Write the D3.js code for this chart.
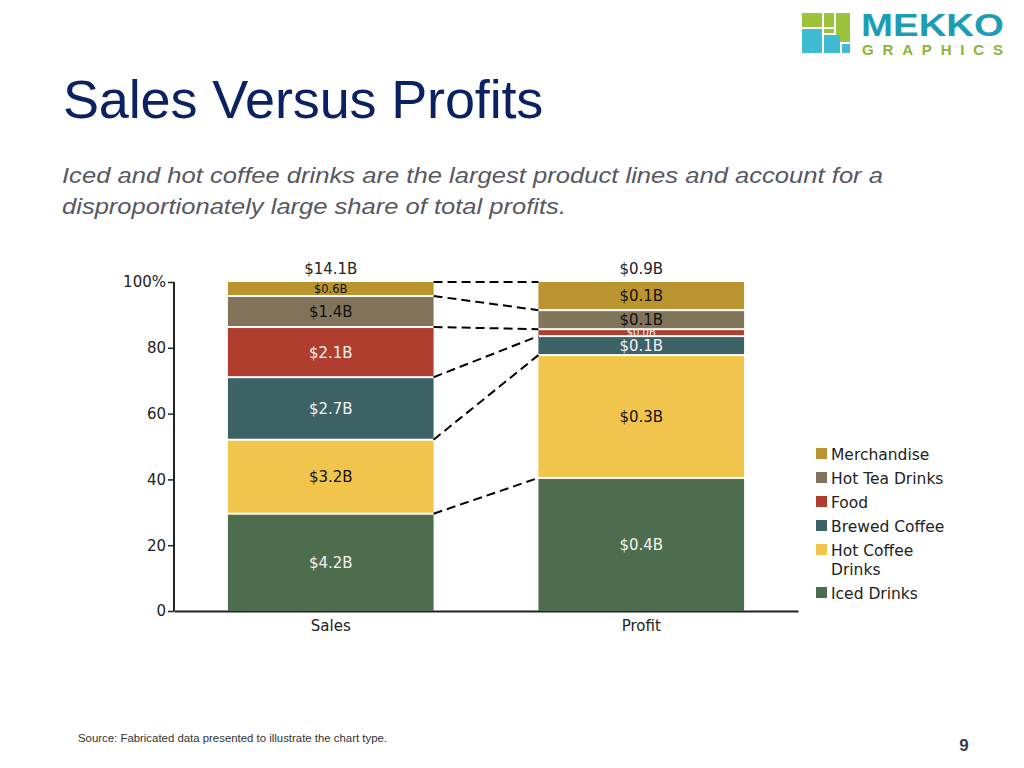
<!DOCTYPE html>
<html><head><meta charset="utf-8">
<script src="https://cdn.jsdelivr.net/npm/d3@7"></script>
<style>body{margin:0;background:#fff;}svg{display:block;}</style>
</head><body>
<svg id="chart" width="1024" height="768"></svg>
<script>
const columns = ["Sales", "Profit"];
const columnTotals = ["$14.1B", "$0.9B"];
const segments = ["Iced Drinks", "Hot Coffee Drinks", "Brewed Coffee", "Food", "Hot Tea Drinks", "Merchandise"];
const salesValues = [4.17, 3.17, 2.68, 2.15, 1.33, 0.60];
const profitValues = [0.364, 0.336, 0.052, 0.019, 0.052, 0.077];
const salesLabels = ["$4.2B", "$3.2B", "$2.7B", "$2.1B", "$1.4B", "$0.6B"];
const profitLabels = ["$0.4B", "$0.3B", "$0.1B", "$0.0B", "$0.1B", "$0.1B"];
const colors = ["#4E6D4E", "#F1C54C", "#3C6266", "#AF3E2E", "#82745A", "#BA952F"];
const labelColors = ["#F2F2F2", "#111", "#F2F2F2", "#F2F2F2", "#111", "#111"];
const yTicks = [0, 20, 40, 60, 80, 100];
const legendOrder = ["Merchandise", "Hot Tea Drinks", "Food", "Brewed Coffee", "Hot Coffee Drinks", "Iced Drinks"];

const svg = d3.select("#chart");

// Logo
const logo = svg.append("g");
const logoRects = [
  [802,13,20,14,"#9BC43C"],[824,13,10,14,"#9BC43C"],[836,13,14,29,"#9BC43C"],
  [802,29,20,24,"#3FBCD2"],[824,35,16,18,"#3FBCD2"],[842,44,8,9,"#3FBCD2"],[824,29,10,4,"#9BC43C"]
];
logoRects.forEach(r => logo.append("rect").attr("x", r[0]).attr("y", r[1]).attr("width", r[2]).attr("height", r[3]).attr("fill", r[4]));
logo.append("text").attr("x", 861).attr("y", 36).attr("font-family", "Liberation Sans, Arial, sans-serif")
  .attr("font-weight", "bold").attr("font-size", 31).attr("fill", "#1C9DB3")
  .attr("textLength", 143).attr("lengthAdjust", "spacingAndGlyphs").text("MEKKO");
logo.append("text").attr("x", 862).attr("y", 55).attr("font-family", "Liberation Sans, Arial, sans-serif")
  .attr("font-weight", "bold").attr("font-size", 15).attr("fill", "#8DB43A").attr("textLength", 141).text("GRAPHICS");

// Title and subtitle
svg.append("text").attr("x", 63).attr("y", 118).attr("font-family", "Liberation Sans, Arial, sans-serif")
  .attr("font-size", 54).attr("letter-spacing", "-0.15px").attr("fill", "#0B2262").text("Sales Versus Profits");
const subStyle = t => t.attr("font-family", "Liberation Sans, Arial, sans-serif")
  .attr("font-size", 22.5).attr("font-style", "italic").attr("fill", "#585862").attr("lengthAdjust", "spacingAndGlyphs");
svg.append("text").call(subStyle).attr("x", 62).attr("y", 183).attr("textLength", 821)
  .text("Iced and hot coffee drinks are the largest product lines and account for a");
svg.append("text").call(subStyle).attr("x", 62).attr("y", 214).attr("textLength", 504)
  .text("disproportionately large share of total profits.");

// Chart
const y = d3.scaleLinear().domain([0, 100]).range([611, 282]);
const x = d3.scaleBand().domain(columns).range([174, 798]).paddingInner(0.3376).paddingOuter(0.1736);

const font = "DejaVu Sans, Verdana, sans-serif";

const yAxis = svg.append("g").attr("transform", "translate(174,0)")
  .call(d3.axisLeft(y).tickValues(yTicks).tickSize(6).tickPadding(2).tickFormat(d => d === 100 ? "100%" : d));
yAxis.select(".domain").attr("stroke", "#222").attr("stroke-width", 2).attr("d", "M0,282V611");
yAxis.selectAll(".tick line").attr("stroke", "#222").attr("stroke-width", 1.5);
yAxis.selectAll(".tick text").attr("font-family", font).attr("font-size", 15).attr("fill", "#222");

const xAxis = svg.append("g").attr("transform", "translate(0,611)")
  .call(d3.axisBottom(x).tickSize(0).tickPadding(7));
xAxis.select(".domain").attr("stroke", "#222").attr("stroke-width", 2);
xAxis.selectAll(".tick text").attr("font-family", font).attr("font-size", 15).attr("fill", "#222").attr("dy", "0.85em");

function stackCol(values) {
  const total = d3.sum(values);
  let cum = 0;
  return values.map((v, i) => {
    const y0 = cum / total * 100; cum += v;
    return { i, y0, y1: cum / total * 100 };
  });
}
const stacks = [stackCol(salesValues), stackCol(profitValues)];
const labels = [salesLabels, profitLabels];

stacks.forEach((st, c) => {
  const g = svg.append("g");
  const x0 = x(columns[c]), w = x.bandwidth();
  st.forEach(s => {
    const top = y(s.y1), bot = y(s.y0);
    g.append("rect").attr("x", x0).attr("y", top + (s.i === 5 ? 0 : 1)).attr("width", w)
      .attr("height", Math.max(0, bot - top - (s.i === 5 ? 0 : 1) - (s.i === 0 ? 0 : 1)))
      .attr("fill", colors[s.i]);
    const h = bot - top;
    const fs = h < 10 ? 10 : h < 16 ? 11.5 : 15;
    g.append("text").attr("x", x0 + w / 2).attr("y", (top + bot) / 2).attr("dy", "0.36em")
      .attr("text-anchor", "middle").attr("font-family", font).attr("font-size", fs)
      .attr("fill", labelColors[s.i]).text(labels[c][s.i]);
  });
  svg.append("text").attr("x", x0 + w / 2).attr("y", 274).attr("text-anchor", "middle")
    .attr("font-family", font).attr("font-size", 15).attr("fill", "#222").text(columnTotals[c]);
});

// Connector dashed lines
const xs = x("Sales") + x.bandwidth(), xp = x("Profit");
const conn = svg.append("g");
stacks[0].forEach((s, i) => {
  conn.append("line").attr("x1", xs).attr("x2", xp)
    .attr("y1", y(s.y1)).attr("y2", y(stacks[1][i].y1))
    .attr("stroke", "#000").attr("stroke-width", 2).attr("stroke-dasharray", "9,5");
});

// Legend
const leg = svg.append("g");
let ly = 454;
legendOrder.forEach(name => {
  const idx = segments.indexOf(name);
  leg.append("rect").attr("x", 816).attr("y", ly - 6).attr("width", 11).attr("height", 11).attr("fill", colors[idx]);
  const t = leg.append("text").attr("font-family", font).attr("font-size", 15.5).attr("fill", "#222");
  if (name === "Hot Coffee Drinks") {
    t.append("tspan").attr("x", 831).attr("y", ly).attr("dy", "0.36em").text("Hot Coffee");
    t.append("tspan").attr("x", 831).attr("y", ly + 19).attr("dy", "0.36em").text("Drinks");
    ly += 43;
  } else {
    t.append("tspan").attr("x", 831).attr("y", ly).attr("dy", "0.36em").text(name);
    ly += 24;
  }
});

// Footer
svg.append("text").attr("x", 78).attr("y", 742).attr("font-family", "Liberation Sans, Arial, sans-serif")
  .attr("font-size", 11.4).attr("fill", "#333").text("Source: Fabricated data presented to illustrate the chart type.");
svg.append("text").attr("x", 964).attr("y", 751).attr("text-anchor", "middle").attr("font-family", "Liberation Sans, Arial, sans-serif")
  .attr("font-size", 17).attr("font-weight", "bold").attr("fill", "#3A3A4C").text("9");
</script>
</body></html>
